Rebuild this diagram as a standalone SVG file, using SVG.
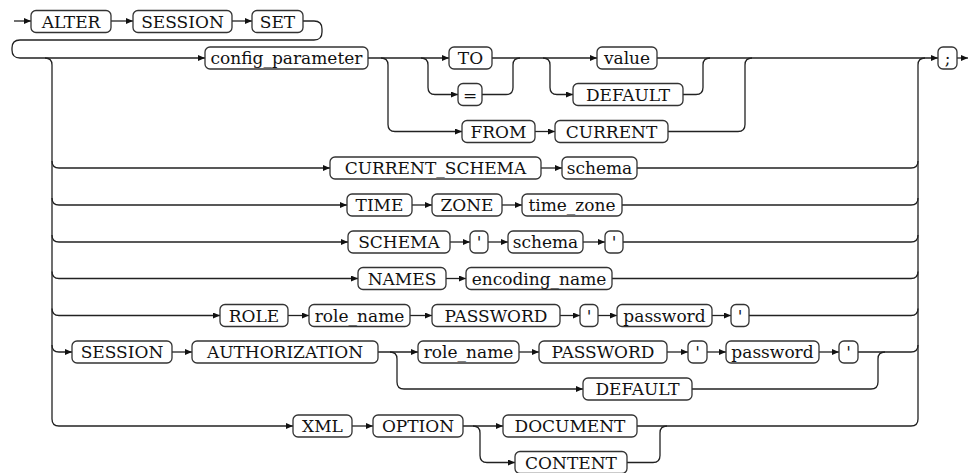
<svg xmlns="http://www.w3.org/2000/svg" width="972" height="473" viewBox="0 0 972 473">
<defs>
<marker id="ah" viewBox="0 0 7 6" refX="7" refY="3" markerWidth="7" markerHeight="6" markerUnits="userSpaceOnUse" orient="auto">
<path d="M0,0 L7,3 L0,6 z" fill="#111"/>
</marker>
</defs>
<style>
.c{fill:none;stroke:#222;stroke-width:1.3}
.a{marker-end:url(#ah)}
rect{fill:#fff;stroke:#333;stroke-width:1.3}
text{font-family:"DejaVu Serif",serif;font-size:17px;fill:#111;text-anchor:middle}
</style>
<rect x="0" y="0" width="972" height="473" style="stroke:none;fill:#fff"/>
<g id="connectors">
<path class="c a" d="M14,21 H31"/>
<path class="c a" d="M111,21 H133"/>
<path class="c a" d="M232,21 H252"/>
<path class="c a" d="M303,21 H314 q8,0 8,8 V32 q0,8 -8,8 H20 q-8,0 -8,8 V50 q0,8 8,8 H205"/>
<path class="c" d="M45,58 q7,0 7,7 V419 q0,7 7,7"/>
<path class="c a" d="M368,58 H449"/>
<path class="c a" d="M381,58 q7,0 7,7 V124.5 q0,7 7,7 H462"/>
<path class="c a" d="M421,58 q7,0 7,7 V87.5 q0,7 7,7 H458"/>
<path class="c a" d="M492,58 H597"/>
<path class="c" d="M482,94.5 H506 q7,0 7,-7 V65 q0,-7 7,-7"/>
<path class="c a" d="M543,58 q7,0 7,7 V87.5 q0,7 7,7 H573"/>
<path class="c a" d="M657,58 H938"/>
<path class="c" d="M683,94.5 H696 q7,0 7,-7 V65 q0,-7 7,-7"/>
<path class="c a" d="M535,131.5 H555"/>
<path class="c" d="M668,131.5 H738 q7,0 7,-7 V65 q0,-7 7,-7"/>
<path class="c a" d="M957,58 H968"/>
<path class="c" d="M918,419 V65 q0,-7 7,-7"/>
<path class="c a" d="M52,161 q0,7 7,7 H330"/>
<path class="c a" d="M541,168 H562"/>
<path class="c" d="M637,168 H911 q7,0 7,-7"/>
<path class="c a" d="M52,198 q0,7 7,7 H347"/>
<path class="c a" d="M412,205 H432"/>
<path class="c a" d="M502,205 H522"/>
<path class="c" d="M622,205 H911 q7,0 7,-7"/>
<path class="c a" d="M52,235 q0,7 7,7 H348"/>
<path class="c a" d="M450,242 H470"/>
<path class="c a" d="M488,242 H508"/>
<path class="c a" d="M583,242 H605"/>
<path class="c" d="M623,242 H911 q7,0 7,-7"/>
<path class="c a" d="M52,271.5 q0,7 7,7 H358"/>
<path class="c a" d="M446,278.5 H466"/>
<path class="c" d="M612,278.5 H911 q7,0 7,-7"/>
<path class="c a" d="M52,308.5 q0,7 7,7 H220"/>
<path class="c a" d="M288,315.5 H309"/>
<path class="c a" d="M410,315.5 H432"/>
<path class="c a" d="M560,315.5 H580"/>
<path class="c a" d="M598,315.5 H617"/>
<path class="c a" d="M712,315.5 H731"/>
<path class="c" d="M749,315.5 H911 q7,0 7,-7"/>
<path class="c a" d="M52,345 q0,7 7,7 H72"/>
<path class="c a" d="M172,352 H192"/>
<path class="c a" d="M378,352 H418"/>
<path class="c a" d="M390,352 q7,0 7,7 V382 q0,7 7,7 H583"/>
<path class="c a" d="M519,352 H539"/>
<path class="c a" d="M667,352 H688"/>
<path class="c a" d="M707,352 H726"/>
<path class="c a" d="M819,352 H839"/>
<path class="c" d="M858,352 H911 q7,0 7,-7"/>
<path class="c" d="M692,389 H871 q7,0 7,-7 V359 q0,-7 7,-7"/>
<path class="c a" d="M59,426 H293"/>
<path class="c a" d="M352,426 H373"/>
<path class="c a" d="M463,426 H503"/>
<path class="c a" d="M473,426 q7,0 7,7 V455.5 q0,7 7,7 H515"/>
<path class="c" d="M637,426 H911 q7,0 7,-7"/>
<path class="c" d="M627,462.5 H653 q7,0 7,-7 V433 q0,-7 7,-7"/>
</g>
<g id="n_alter"><rect x="31" y="10.5" width="80" height="22" rx="5"/><text x="71" y="27.5">ALTER</text></g>
<g id="n_session"><rect x="133" y="10.5" width="99" height="22" rx="5"/><text x="182.5" y="27.5">SESSION</text></g>
<g id="n_set"><rect x="252" y="10.5" width="51" height="22" rx="5"/><text x="277.5" y="27.5">SET</text></g>
<g id="n_config_parameter"><rect x="205" y="47" width="163" height="22" rx="5"/><text x="286.5" y="64">config_parameter</text></g>
<g id="n_to"><rect x="449" y="47" width="43" height="22" rx="5"/><text x="470.5" y="64">TO</text></g>
<g id="n_eq"><rect x="458" y="83.5" width="24" height="22" rx="5"/><text x="470" y="100.5">=</text></g>
<g id="n_value"><rect x="597" y="47" width="60" height="22" rx="5"/><text x="627" y="64">value</text></g>
<g id="n_default1"><rect x="573" y="83.5" width="110" height="22" rx="5"/><text x="628" y="100.5">DEFAULT</text></g>
<g id="n_from"><rect x="462" y="120.5" width="73" height="22" rx="5"/><text x="498.5" y="137.5">FROM</text></g>
<g id="n_current"><rect x="555" y="120.5" width="113" height="22" rx="5"/><text x="611.5" y="137.5">CURRENT</text></g>
<g id="n_semicolon"><rect x="938" y="47" width="19" height="22" rx="5"/><text x="947.5" y="64">;</text></g>
<g id="n_current_schema"><rect x="330" y="157" width="211" height="22" rx="5"/><text x="435.5" y="174">CURRENT_SCHEMA</text></g>
<g id="n_schema1"><rect x="562" y="157" width="75" height="22" rx="5"/><text x="599.5" y="174">schema</text></g>
<g id="n_time"><rect x="347" y="194" width="65" height="22" rx="5"/><text x="379.5" y="211">TIME</text></g>
<g id="n_zone"><rect x="432" y="194" width="70" height="22" rx="5"/><text x="467" y="211">ZONE</text></g>
<g id="n_time_zone"><rect x="522" y="194" width="100" height="22" rx="5"/><text x="572" y="211">time_zone</text></g>
<g id="n_schema_kw"><rect x="348" y="231" width="102" height="22" rx="5"/><text x="399" y="248">SCHEMA</text></g>
<g id="n_q1"><rect x="470" y="231" width="18" height="22" rx="5"/><text x="479" y="248">'</text></g>
<g id="n_schema2"><rect x="508" y="231" width="75" height="22" rx="5"/><text x="545.5" y="248">schema</text></g>
<g id="n_q2"><rect x="605" y="231" width="18" height="22" rx="5"/><text x="614" y="248">'</text></g>
<g id="n_names"><rect x="358" y="267.5" width="88" height="22" rx="5"/><text x="402" y="284.5">NAMES</text></g>
<g id="n_encoding_name"><rect x="466" y="267.5" width="146" height="22" rx="5"/><text x="539" y="284.5">encoding_name</text></g>
<g id="n_role"><rect x="220" y="304.5" width="68" height="22" rx="5"/><text x="254" y="321.5">ROLE</text></g>
<g id="n_role_name1"><rect x="309" y="304.5" width="101" height="22" rx="5"/><text x="359.5" y="321.5">role_name</text></g>
<g id="n_password_kw1"><rect x="432" y="304.5" width="128" height="22" rx="5"/><text x="496" y="321.5">PASSWORD</text></g>
<g id="n_q3"><rect x="580" y="304.5" width="18" height="22" rx="5"/><text x="589" y="321.5">'</text></g>
<g id="n_password1"><rect x="617" y="304.5" width="95" height="22" rx="5"/><text x="664.5" y="321.5">password</text></g>
<g id="n_q4"><rect x="731" y="304.5" width="18" height="22" rx="5"/><text x="740" y="321.5">'</text></g>
<g id="n_session2"><rect x="72" y="341" width="100" height="22" rx="5"/><text x="122" y="358">SESSION</text></g>
<g id="n_authorization"><rect x="192" y="341" width="186" height="22" rx="5"/><text x="285" y="358">AUTHORIZATION</text></g>
<g id="n_role_name2"><rect x="418" y="341" width="101" height="22" rx="5"/><text x="468.5" y="358">role_name</text></g>
<g id="n_password_kw2"><rect x="539" y="341" width="128" height="22" rx="5"/><text x="603" y="358">PASSWORD</text></g>
<g id="n_q5"><rect x="688" y="341" width="19" height="22" rx="5"/><text x="697.5" y="358">'</text></g>
<g id="n_password2"><rect x="726" y="341" width="93" height="22" rx="5"/><text x="772.5" y="358">password</text></g>
<g id="n_q6"><rect x="839" y="341" width="19" height="22" rx="5"/><text x="848.5" y="358">'</text></g>
<g id="n_default2"><rect x="583" y="378" width="109" height="22" rx="5"/><text x="637.5" y="395">DEFAULT</text></g>
<g id="n_xml"><rect x="293" y="415" width="59" height="22" rx="5"/><text x="322.5" y="432">XML</text></g>
<g id="n_option"><rect x="373" y="415" width="90" height="22" rx="5"/><text x="418" y="432">OPTION</text></g>
<g id="n_document"><rect x="503" y="415" width="134" height="22" rx="5"/><text x="570" y="432">DOCUMENT</text></g>
<g id="n_content"><rect x="515" y="451.5" width="112" height="22" rx="5"/><text x="571" y="468.5">CONTENT</text></g>
</svg>
